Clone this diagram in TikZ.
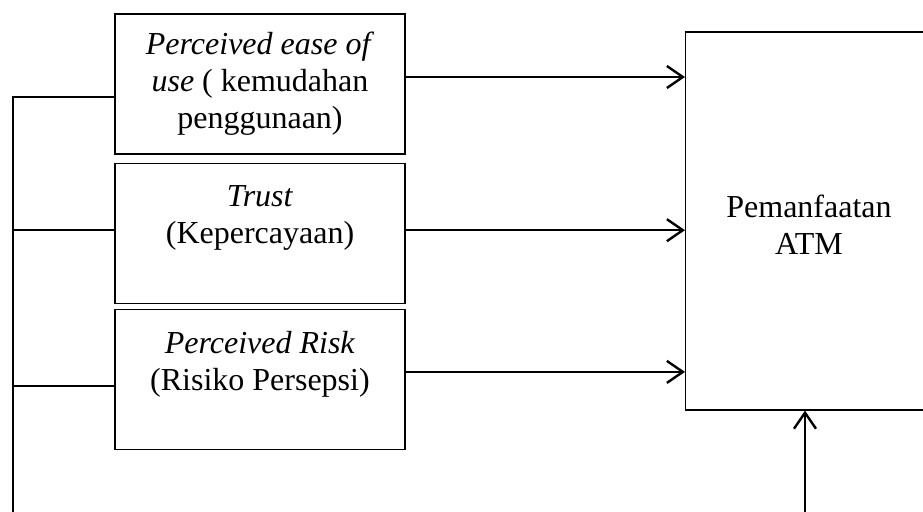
\documentclass[tikz,border=0pt]{standalone}
\usepackage{fontspec}
\setmainfont{Liberation Serif}
\usetikzlibrary{arrows.meta,positioning}

\begin{document}
\begin{tikzpicture}[
  font=\fontsize{16}{18.5}\selectfont,
  varbox/.style={draw,line width=0.6pt,align=center,minimum width=145pt,
    minimum height=70pt,inner sep=2pt},
  link/.style={line width=1.2pt},
  arr/.style={link,-{Straight Barb[length=8pt,width=11pt,line width=1.2pt]}}]
  \useasboundingbox (0,0) rectangle (461.5pt,-256pt);
  \node[varbox] (peou) at (130pt,-42pt) {\textit{Perceived ease of}\\\textit{use} ( kemudahan\\penggunaan)};
  \node[varbox,below=4pt of peou] (trust) {\textit{Trust}\\(Kepercayaan)\\\mbox{}};
  \node[varbox,below=2.5pt of trust] (risk) {\textit{Perceived Risk}\\(Risiko Persepsi)\\\mbox{}};
  \node[draw,line width=0.6pt,minimum width=160pt,minimum height=189pt,anchor=west]
    (atm) at (342.5pt,-110.5pt) {};
  \node[align=center] (atmtext) at (404.5pt,-112.5pt) {Pemanfaatan\\ATM};
  \coordinate (bus) at (6.5pt,-256pt);
  \coordinate (foot) at (402.5pt,-256pt);
  % arrows into the ATM box
  \draw[arr] ([yshift=3.5pt]peou.east) -- ([yshift=3.5pt]peou.east -| atm.west);
  \draw[arr] ([yshift=1.5pt]trust.east) -- ([yshift=1.5pt]trust.east -| atm.west);
  \draw[arr] ([yshift=3.75pt]risk.east) -- ([yshift=3.75pt]risk.east -| atm.west);
  \draw[arr] (foot) -- (foot |- atm.south);
  % left line
  \draw[link] (bus) |- ([yshift=-6.5pt]peou.west);
  \draw[link] ([yshift=1.5pt]trust.west) -- ([yshift=1.5pt]trust.west -| bus);
  \draw[link] ([yshift=-3.25pt]risk.west) -- ([yshift=-3.25pt]risk.west -| bus);
\end{tikzpicture}
\end{document}
